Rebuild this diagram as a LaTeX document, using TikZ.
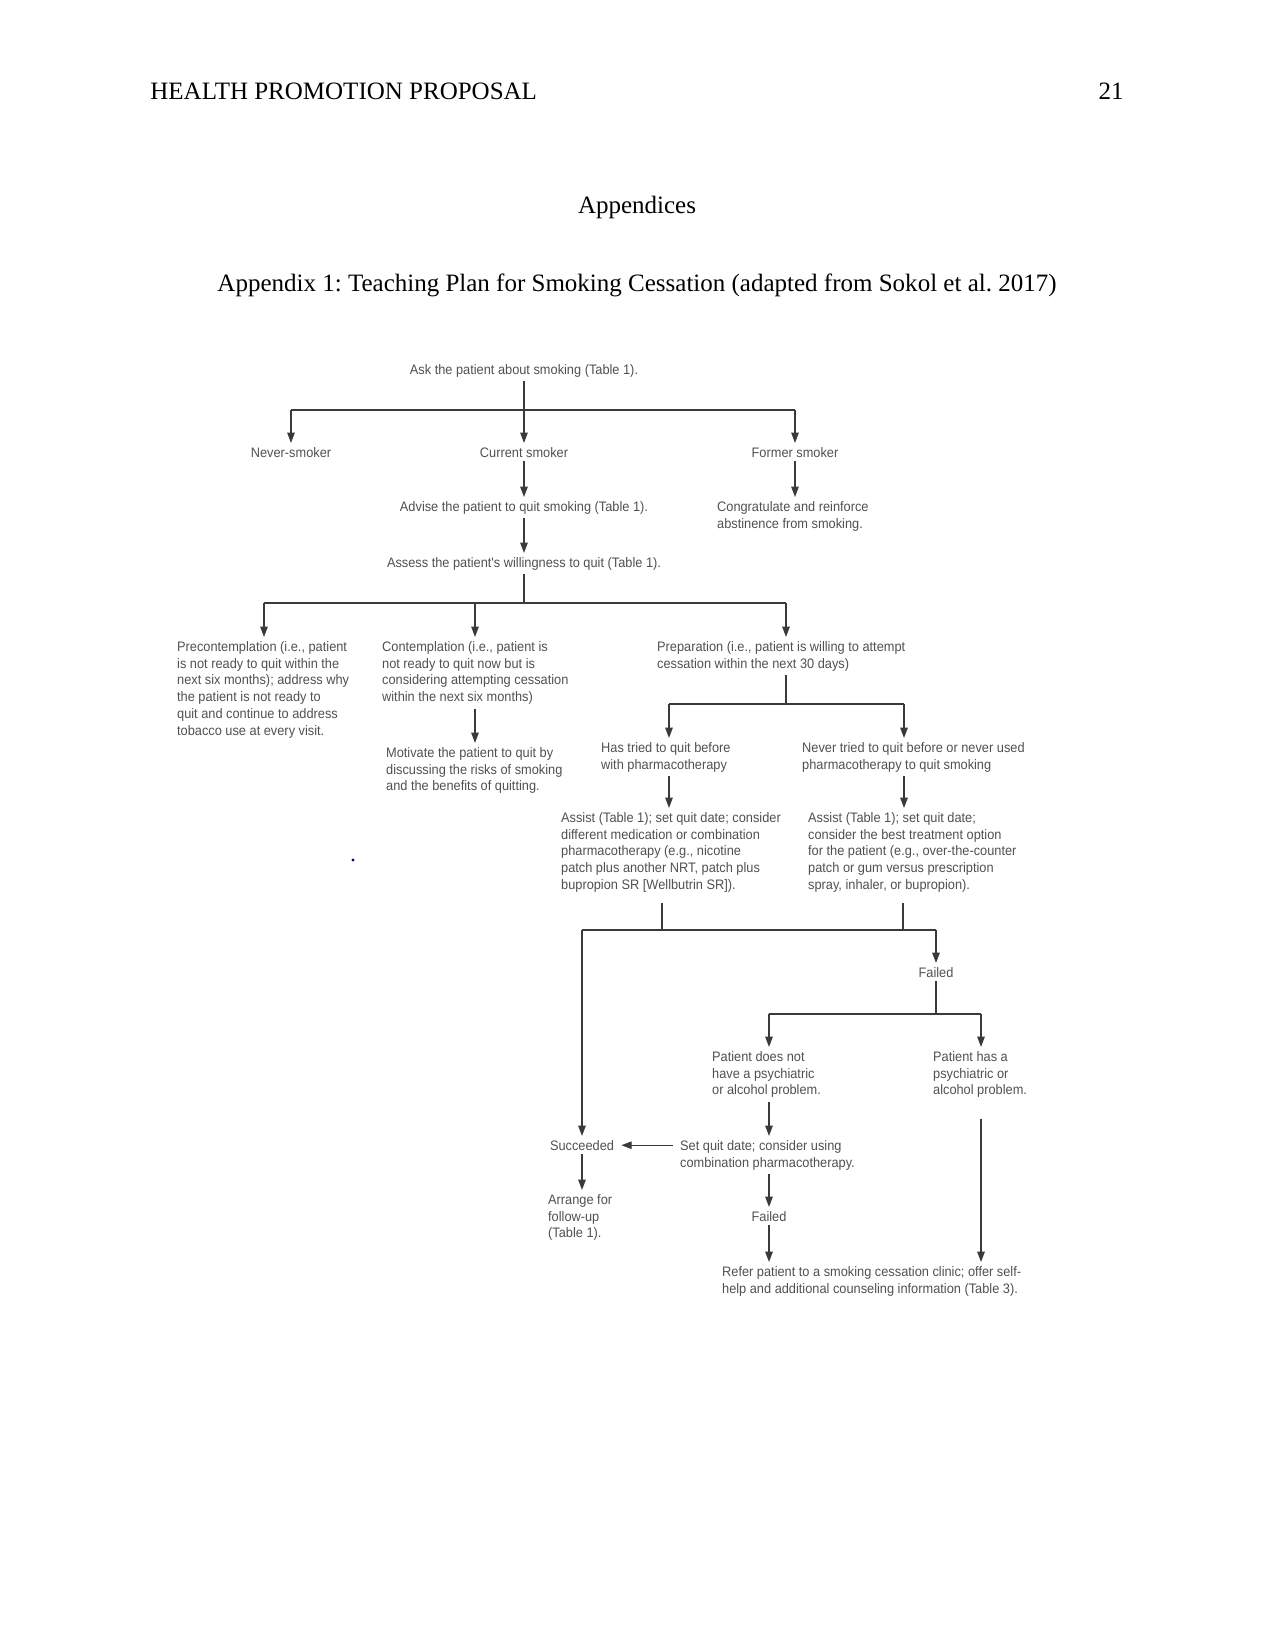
\documentclass[tikz,border=0pt]{standalone}
\usepackage{fontspec}
\setmainfont{Liberation Serif}
\newfontfamily\diagfont[FakeStretch=0.93]{Liberation Sans}
\usetikzlibrary{arrows.meta}
\definecolor{txtgray}{HTML}{505050}
\definecolor{lngray}{HTML}{3A3A3A}
\frenchspacing
\tikzset{
  x=0.48pt, y=-0.48pt,
  hdr/.style={font=\fontsize{12}{14}\selectfont, inner sep=0pt, text=black},
  txt/.style={font=\diagfont\fontsize{6.6}{8.1}\selectfont, text=txtgray, inner sep=0pt, outer sep=2pt, align=left},
  ln/.style={draw=lngray, line width=0.6pt},
  arr/.style={ln, -{Triangle[width=3.6pt,length=5pt]}},
}
\begin{document}
\begin{tikzpicture}
\useasboundingbox (0,0) rectangle (1275,1650);
% page header
\node[hdr, anchor=base west] (hdr) at (150,100) {HEALTH PROMOTION PROPOSAL};
\node[hdr, anchor=base east] (pg) at (1124,100) {21};
\node[hdr, anchor=base] (appx) at (637,214) {Appendices};
\node[hdr, anchor=base] (title) at (637,292) {Appendix 1: Teaching Plan for Smoking Cessation (adapted from Sokol et al. 2017)};

% nodes
\node[txt, anchor=north] (ask) at (524,360) {Ask the patient about smoking (Table 1).};
\node[txt, anchor=north] (never) at (291,443) {Never-smoker};
\node[txt, anchor=north] (current) at (524,443) {Current smoker};
\node[txt, anchor=north] (former) at (795,443) {Former smoker};
\node[txt, anchor=north] (advise) at (524,497) {Advise the patient to quit smoking (Table 1).};
\node[txt, anchor=north west] (congr) at (713,497) {Congratulate and reinforce\\abstinence from smoking.};
\node[txt, anchor=north] (assess) at (524,553) {Assess the patient's willingness to quit (Table 1).};
\node[txt, anchor=north west] (precon) at (173,637) {Precontemplation (i.e., patient\\is not ready to quit within the\\next six months); address why\\the patient is not ready to\\quit and continue to address\\tobacco use at every visit.};
\node[txt, anchor=north west] (contem) at (378,637) {Contemplation (i.e., patient is\\not ready to quit now but is\\considering attempting cessation\\within the next six months)};
\node[txt, anchor=north west] (prep) at (653,637) {Preparation (i.e., patient is willing to attempt\\cessation within the next 30 days)};
\node[txt, anchor=north west] (motiv) at (382,743) {Motivate the patient to quit by\\discussing the risks of smoking\\and the benefits of quitting.};
\node[txt, anchor=north west] (hastried) at (597,738) {Has tried to quit before\\with pharmacotherapy};
\node[txt, anchor=north west] (nevertried) at (798,738) {Never tried to quit before or never used\\pharmacotherapy to quit smoking};
\node[txt, anchor=north west] (assist1) at (557,808) {Assist (Table 1); set quit date; consider\\different medication or combination\\pharmacotherapy (e.g., nicotine\\patch plus another NRT, patch plus\\bupropion SR [Wellbutrin SR]).};
\node[txt, anchor=north west] (assist2) at (804,808) {Assist (Table 1); set quit date;\\consider the best treatment option\\for the patient (e.g., over-the-counter\\patch or gum versus prescription\\spray, inhaler, or bupropion).};
\node[txt, anchor=north] (failed1) at (936,963) {Failed};
\node[txt, anchor=north west] (pdn) at (708,1047) {Patient does not\\have a psychiatric\\or alcohol problem.};
\node[txt, anchor=north west] (phas) at (929,1047) {Patient has a\\psychiatric or\\alcohol problem.};
\node[txt, anchor=north west] (setq) at (676,1136) {Set quit date; consider using\\combination pharmacotherapy.};
\node[txt, anchor=north] (succ) at (582,1136) {Succeeded};
\node[txt, anchor=north west] (arrange) at (544,1190) {Arrange for\\follow-up\\(Table 1).};
\node[txt, anchor=north] (failed2) at (769,1207) {Failed};
\node[txt, anchor=north west] (refer) at (718,1262) {Refer patient to a smoking cessation clinic; offer self-\\help and additional counseling information (Table 3).};

% junction coordinates
\coordinate (b1c) at (524,410); \coordinate (b1l) at (291,410); \coordinate (b1r) at (795,410);
\coordinate (b2c) at (524,603); \coordinate (b2l) at (264,603); \coordinate (b2m) at (475,603); \coordinate (b2r) at (786,603);
\coordinate (b3c) at (786,704); \coordinate (b3l) at (669,704); \coordinate (b3r) at (904,704);
\coordinate (b4l) at (582,930); \coordinate (b4a) at (662,930); \coordinate (b4b) at (903,930); \coordinate (b4r) at (936,930);
\coordinate (b5c) at (936,1014); \coordinate (b5l) at (769,1014); \coordinate (b5r) at (981,1014);

% connectors
\draw[ln] (ask.south) -- (b1c);
\draw[ln] (b1l) -- (b1r);
\draw[arr] (b1l) -- (never.north);
\draw[arr] (b1c) -- (current.north);
\draw[arr] (b1r) -- (former.north);
\draw[arr] (current.south) -- (advise.north);
\draw[arr] (former.south) -- (congr.north -| former.south);
\draw[arr] (advise.south) -- (assess.north);
\draw[ln] (assess.south) -- (b2c);
\draw[ln] (b2l) -- (b2r);
\draw[arr] (b2l) -- (b2l |- precon.north);
\draw[arr] (b2m) -- (b2m |- contem.north);
\draw[arr] (b2r) -- (b2r |- prep.north);
\draw[arr] (contem.south -| b2m) -- (motiv.north -| b2m);
\draw[ln] (prep.south -| b3c) -- (b3c);
\draw[ln] (b3l) -- (b3r);
\draw[arr] (b3l) -- (b3l |- hastried.north);
\draw[arr] (b3r) -- (b3r |- nevertried.north);
\draw[arr] (hastried.south -| b3l) -- (assist1.north -| b3l);
\draw[arr] (nevertried.south -| b3r) -- (assist2.north -| b3r);
\draw[ln] ([yshift=-3pt]assist1.south -| b4a) -- (b4a);
\draw[ln] ([yshift=-3pt]assist2.south -| b4b) -- (b4b);
\draw[ln] (b4l) -- (b4r);
\draw[arr] (b4r) -- (failed1.north);
\draw[arr] (b4l) -- (succ.north);
\draw[ln] (failed1.south) -- (b5c);
\draw[ln] (b5l) -- (b5r);
\draw[arr] (b5l) -- (b5l |- pdn.north);
\draw[arr] (b5r) -- (b5r |- phas.north);
\draw[arr] (pdn.south -| b5l) -- (setq.north -| b5l);
\draw[arr, shorten >=1.5pt] ([xshift=-1.5pt]setq.west |- succ.east) -- (succ.east);
\draw[arr] (succ.south) -- (succ.south |- arrange.north);
\draw[arr] (setq.south -| b5l) -- (failed2.north);
\draw[arr] (failed2.south) -- (refer.north -| failed2.south);
\draw[arr, shorten <=8pt] (phas.south -| b5r) -- (refer.north -| b5r);

% stray dot
\fill[blue!60!black] (353,860) circle (0.8pt);
\end{tikzpicture}
\end{document}
